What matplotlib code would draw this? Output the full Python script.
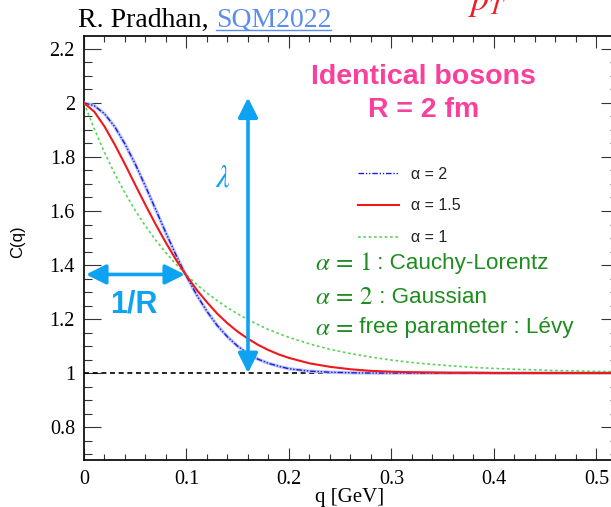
import matplotlib
matplotlib.use('Agg')
import matplotlib.pyplot as plt
from matplotlib.ticker import MultipleLocator, FormatStrFormatter
from matplotlib.lines import Line2D

plt.rcParams['mathtext.fontset'] = 'stix'

# ---------------- data ----------------
q = [0.00, 0.01, 0.02, 0.03, 0.04, 0.05, 0.06, 0.07, 0.08, 0.09, 0.10,
     0.11, 0.12, 0.13, 0.14, 0.15, 0.16, 0.17, 0.18, 0.19, 0.20,
     0.22, 0.24, 0.26, 0.28, 0.30, 0.32, 0.34, 0.36, 0.38, 0.40,
     0.42, 0.44, 0.46, 0.48, 0.50, 0.52]

c_alpha2 = [2.000, 1.990, 1.960, 1.912, 1.848, 1.774, 1.691, 1.605, 1.518, 1.435, 1.358,
            1.289, 1.228, 1.176, 1.134, 1.099, 1.072, 1.051, 1.036, 1.025, 1.016,
            1.007, 1.003, 1.001, 1.000, 1.000, 1.000, 1.000, 1.000, 1.000, 1.000,
            1.000, 1.000, 1.000, 1.000, 1.000, 1.000]

c_alpha15 = [2.000, 1.968, 1.913, 1.846, 1.773, 1.697, 1.622, 1.550, 1.482, 1.418, 1.360,
             1.308, 1.262, 1.220, 1.184, 1.153, 1.127, 1.104, 1.085, 1.069, 1.056,
             1.036, 1.023, 1.014, 1.008, 1.005, 1.003, 1.002, 1.001, 1.001, 1.000,
             1.000, 1.000, 1.000, 1.000, 1.000, 1.000]

c_alpha1 = [2.000, 1.904, 1.817, 1.738, 1.667, 1.602, 1.544, 1.492, 1.445, 1.402, 1.363,
            1.328, 1.296, 1.268, 1.242, 1.219, 1.198, 1.179, 1.161, 1.146, 1.132,
            1.108, 1.088, 1.072, 1.059, 1.048, 1.039, 1.032, 1.026, 1.021, 1.017,
            1.014, 1.012, 1.009, 1.008, 1.006, 1.005]

series_labels = ['\u03b1 = 2', '\u03b1 = 1.5', '\u03b1 = 1']
baseline_value = 1.0

# annotation anchors (data units)
lambda_q = 0.16
lambda_range = (1.0, 2.02)
invR_range = (0.002, 0.0985)
invR_level = 1.365

# ---------------- figure ----------------
W, H = 611, 507
fig = plt.figure(figsize=(W / 100, H / 100), dpi=100)
fig.patch.set_facecolor('white')

ax_left, ax_right, ax_top, ax_bottom = 84, 618, 36, 460
ax = fig.add_axes([ax_left / W, 1 - ax_bottom / H,
                   (ax_right - ax_left) / W, (ax_bottom - ax_top) / H])
ax.set_xlim(0, 0.521)
ax.set_ylim(0.678, 2.248)

blue = '#1a1ae6'
red = '#f01818'
green = '#5ad35a'
lblue = '#0ea2f2'
pink = '#f8409c'
dgreen = '#1e8c1e'

ax.axhline(baseline_value, color='black', lw=1.2, ls=(0, (3.0, 2.2)), zorder=2)

ax.plot(q, c_alpha2, color='#b9c2f5', lw=2.4, solid_capstyle='round', zorder=3)
l2, = ax.plot(q, c_alpha2, color=blue, lw=1.0,
              ls=(0, (4, 1.3, 1, 1.3, 1, 1.3)), zorder=4)
l15, = ax.plot(q, c_alpha15, color=red, lw=1.5, zorder=5)
l1, = ax.plot(q, c_alpha1, color=green, lw=1.2, ls=(0, (1.6, 1.6)), zorder=4)

# arrows
arrow_kw = dict(arrowstyle='<|-|>,head_length=0.6,head_width=0.3',
                color=lblue, lw=2.6, shrinkA=0, shrinkB=0, mutation_scale=20)
ax.annotate('', xy=(lambda_q, lambda_range[0]), xytext=(lambda_q, lambda_range[1]),
            arrowprops=arrow_kw, zorder=6)
ax.annotate('', xy=(invR_range[0], invR_level), xytext=(invR_range[1], invR_level),
            arrowprops=arrow_kw, zorder=6)

ax.text(0.1356, 1.722, r'$\lambda$', color=lblue, fontsize=22, ha='center', va='center')
ax.text(0.0488, 1.252, '1/R', color=lblue, fontsize=22, fontweight='bold',
        family='Liberation Sans', ha='center', va='center')

ax.text(0.331, 2.035, 'Identical bosons\nR = 2 fm', color=pink, fontsize=20.5,
        fontweight='bold', family='Liberation Sans', ha='center', va='center',
        multialignment='center', linespacing=1.38)

fig.canvas.draw()
green_math = [r'$\alpha\,=\,1$', r'$\alpha\,=\,2$', r'$\alpha\,=\,$']
green_rest = [' : Cauchy-Lorentz', ' : Gaussian', ' free parameter : Lévy']
green_y = [1.407, 1.281, 1.167]
renderer = fig.canvas.get_renderer()
for m, rest, yy in zip(green_math, green_rest, green_y):
    tm = ax.text(0.2254, yy, m, color=dgreen, fontsize=18, ha='left', va='center')
    ext = tm.get_window_extent(renderer=renderer)
    x_next = ax.transData.inverted().transform((ext.x1, 0))[0]
    ax.text(x_next, yy, rest, color=dgreen, fontsize=16.2, family='Liberation Sans',
            ha='left', va='center')

leg = ax.legend(handles=[l2, l15, l1], labels=series_labels, loc='upper left',
                bbox_to_anchor=(0.513, 0.692), frameon=False, borderpad=0,
                borderaxespad=0, handlelength=2.6, handletextpad=0.75,
                labelspacing=1.05, prop={'family': 'Liberation Sans', 'size': 11.5})
for t in leg.get_texts():
    t.set_color('#222222')

# axes styling
for s in ax.spines.values():
    s.set_linewidth(1.3)
    s.set_color('#111111')
ax.xaxis.set_major_locator(MultipleLocator(0.1))
ax.xaxis.set_minor_locator(MultipleLocator(0.02))
ax.yaxis.set_major_locator(MultipleLocator(0.2))
ax.yaxis.set_minor_locator(MultipleLocator(0.05))
ax.xaxis.set_major_formatter(FormatStrFormatter('%g'))
ax.yaxis.set_major_formatter(FormatStrFormatter('%g'))
ax.tick_params(which='both', direction='in', top=True, right=True, width=0.8,
               color='#333333', labelsize=14.5)
ax.tick_params(axis='x', which='major', length=8.6, pad=7)
ax.tick_params(axis='x', which='minor', length=4.3)
ax.tick_params(axis='y', which='major', length=12, pad=6.5)
ax.tick_params(axis='y', which='minor', length=5.8)
for lab in ax.get_xticklabels() + ax.get_yticklabels():
    lab.set_family('Liberation Serif')

ax.set_xlabel('q [GeV]', family='Liberation Serif', fontsize=15)
ax.xaxis.set_label_coords(0.498, -0.066)
ax.set_ylabel('C(q)', family='Liberation Sans', fontsize=12)
ax.yaxis.set_label_coords(-0.110, 0.514)

# header
t1 = fig.text(78 / W, 1 - 27 / H, 'R. Pradhan, ', family='Liberation Serif',
              fontsize=20, color='black', va='baseline')
fig.canvas.draw()
bb = t1.get_window_extent()
t2 = fig.text(bb.x1 / W, 1 - 27 / H, 'SQM2022', family='Liberation Serif',
              fontsize=20, color='#5b8ee8', va='baseline')
fig.canvas.draw()
bb2 = t2.get_window_extent()
fig.add_artist(Line2D([bb2.x0 / W, bb2.x1 / W], [1 - 30 / H, 1 - 30 / H],
                      color='#5b8ee8', lw=1.0))
fig.text(468 / W, 1 - 10 / H, r'$p_T$', color='#e8202a', fontsize=26, va='baseline')

fig.savefig('out.png', dpi=100)
